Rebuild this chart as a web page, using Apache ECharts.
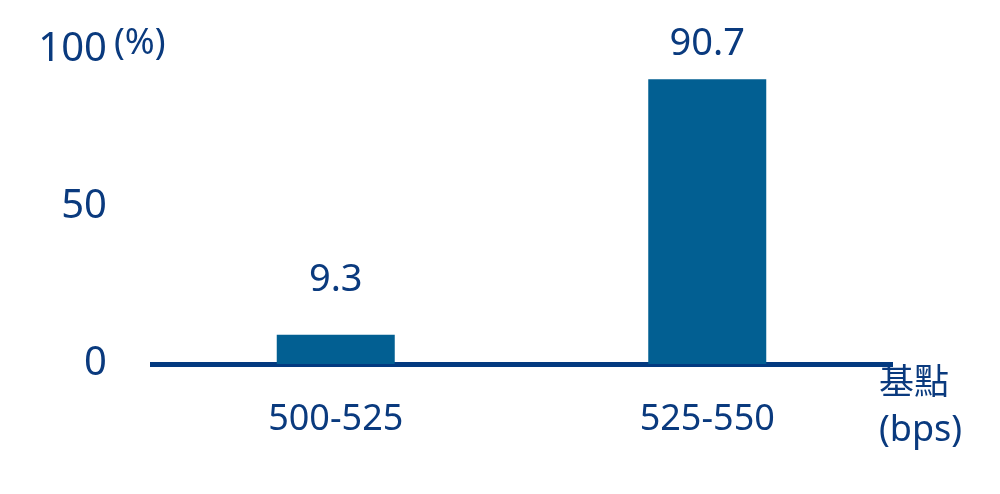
<!DOCTYPE html>
<html>
<head>
<meta charset="utf-8">
<script src="https://cdn.jsdelivr.net/npm/echarts@6/dist/echarts.min.js"></script>
<style>html,body{margin:0;padding:0;background:#fff;}#c{width:1000px;height:494px;}</style>
</head>
<body>
<div id="c"></div>
<script>
const categories = ['500-525', '525-550'];
const values = [9.3, 90.7];
const yTicks = [0, 50, 100];
const yUnit = '(%)';
const xUnit = ['基點', '(bps)'];

const txt = '#0a3a7e';
const font = '"Noto Sans", "Noto Sans CJK TC", sans-serif';
const labelDist = [36, 16];
const chart = echarts.init(document.getElementById('c'));
chart.setOption({
  animation: false,
  grid: { left: 150, right: 107, top: 50, bottom: 130 },
  xAxis: {
    type: 'category',
    data: categories,
    axisLine: { lineStyle: { color: '#033a80', width: 5, cap: 'butt' } },
    axisTick: { show: false },
    axisLabel: { color: txt, fontSize: 36, fontFamily: font, margin: 38 }
  },
  yAxis: {
    type: 'value',
    min: yTicks[0], max: yTicks[yTicks.length - 1], interval: 50,
    axisLine: { show: false },
    axisTick: { show: false },
    splitLine: { show: false },
    axisLabel: { color: txt, fontSize: 40, fontFamily: font, margin: 43, padding: [6, 0, 0, 0] }
  },
  series: [{
    type: 'bar',
    data: values.map((v, i) => ({ value: v, label: { distance: labelDist[i] } })),
    barWidth: 118,
    itemStyle: { color: '#025f92' },
    label: { show: true, position: 'top', color: txt, fontSize: 38, fontFamily: font }
  }],
  graphic: [
    { type: 'text', left: 114, top: 26, style: { text: yUnit, fill: txt, fontSize: 36, fontFamily: font } },
    { type: 'text', left: 879, top: 367, style: { text: xUnit[0], fill: txt, fontSize: 35, fontFamily: font } },
    { type: 'text', left: 879, top: 413, style: { text: xUnit[1], fill: txt, fontSize: 36, fontFamily: font } }
  ]
});
</script>
</body>
</html>
